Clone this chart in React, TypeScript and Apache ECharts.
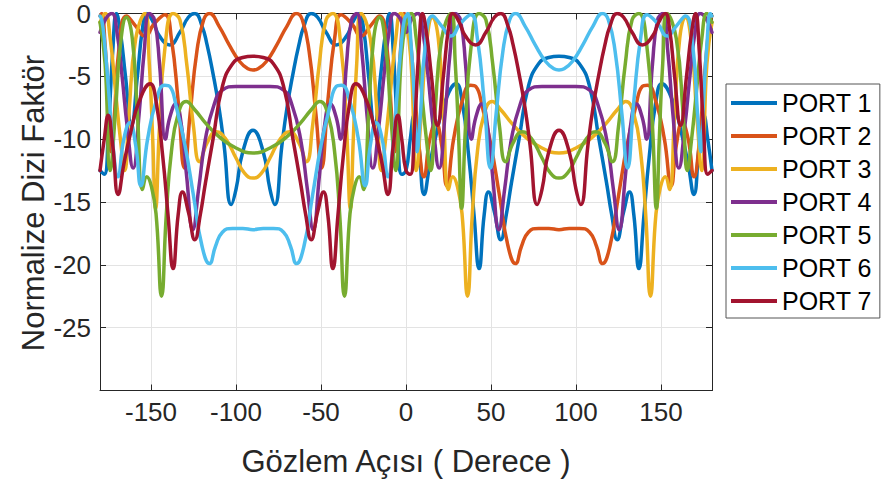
import React, { useEffect, useRef } from 'react';
import * as echarts from 'echarts';

const portNames = ['PORT 1', 'PORT 2', 'PORT 3', 'PORT 4', 'PORT 5', 'PORT 6', 'PORT 7'];
const portColors = ['#0072BD', '#D95319', '#EDB120', '#7E2F8E', '#77AC30', '#4DBEEE', '#A2142F'];
const yTickValues = [0, -5, -10, -15, -20, -25];
const xTitle = 'Gözlem Açısı ( Derece )';
const yTitle = 'Normalize Dizi Faktör';

// [angle (deg), normalized array factor (dB)]
const port1: [number, number][] = [
  [-180,-12.5],[-177.5,-12.8],[-175,-9],[-172.5,-3],[-170.3,0],[-168,-1.5],[-165,-5],[-161.5,-8.9],[-158,-5],[-155,-1.2],[-152.5,0],[-149,-0.6],[-145,-1.8],[-139,-2.5],[-133,-1.5],[-128,-0.3],[-124.2,0],[-120,-1],[-117,-2.5],[-113.5,-4.8],[-110,-7.5],[-107,-10.5],[-102.8,-15.2],[-100,-14],[-96,-11],[-90,-9.3],
  [-84,-11],[-80,-14],[-77.2,-15.2],[-73,-10.5],[-70,-7.5],[-66.5,-4.8],[-63,-2.5],[-60,-1],[-55.8,0],[-52,-0.3],[-47,-1.5],[-41,-2.5],[-35,-1.8],[-31,-0.6],[-27.5,0],[-25,-1.2],[-22,-5],[-18.5,-8.9],[-15,-5],[-12,-1.5],[-9.7,0],[-7.5,-3],[-5,-9],[-2.5,-12.8],[0,-12.5],
  [2.5,-10],[4.8,-8.1],[7.5,-10.5],[10.7,-14.4],[14,-12],[18,-9.5],[23,-7],[29.5,-5.6],[33,-7],[37,-11.5],[40,-16],[43,-20.3],[46,-16],[48.5,-14.2],[52,-15.8],[55.8,-18],[59,-16],[62,-13.5],[66.5,-10],[72,-5.8],[78,-4],[84,-3.5],[90,-3.4],
  [96,-3.5],[102,-4],[108,-5.8],[113.5,-10],[118,-13.5],[121,-16],[124.2,-18],[128,-15.8],[131.5,-14.2],[134,-16],[137,-20.3],[140,-16],[143,-11.5],[147,-7],[150.5,-5.6],[157,-7],[162,-9.5],[166,-12],[169.3,-14.4],[172.5,-10.5],[175.2,-8.1],[177.5,-10],[180,-12.5]
];

const port2: [number, number][] = [
  [-180,-0.2],[-179,0],[-177,-2.5],[-175,-7],[-173.5,-11],[-171.5,-8],[-169,-3],[-164.4,-0.2],[-159,-1],[-153.6,-1.8],[-148,-0.8],[-141.8,-0.1],[-138,-2],[-134,-7],[-130.3,-12.3],[-127,-8],[-123,-3],[-119,-0.5],[-115.6,0],[-110,-1],[-104,-2.5],[-98,-3.8],[-93,-4.4],[-90,-4.5],
  [-87,-4.4],[-82,-3.8],[-76,-2.5],[-70,-1],[-64.4,0],[-61,-0.5],[-57,-3],[-53,-8],[-49.7,-12.3],[-46,-7],[-42,-2],[-38.2,-0.1],[-32,-0.8],[-26.4,-1.8],[-21,-1],[-15.6,-0.2],[-11,-3],[-8.5,-8],[-6.5,-11],[-5,-7],[-3,-2.5],[-1,0],[0,-0.2],
  [1,-0.5],[2.5,-2],[5,-6],[8,-11],[10.5,-13],[14,-10],[17.5,-8.7],[21,-10.5],[24,-13.7],[28,-10],[33,-7],[38,-5.7],[41,-5.8],[45,-7.5],[50,-10.5],[55,-14.5],[60,-18.5],[64.4,-19.9],[68,-18.5],[72,-17.4],[78,-17.1],[84,-17.1],[90,-17.2],
  [96,-17.1],[102,-17.1],[108,-17.4],[112,-18.5],[115.6,-19.9],[120,-18.5],[125,-14.5],[130,-10.5],[135,-7.5],[139,-5.8],[142,-5.7],[147,-7],[152,-10],[156,-13.7],[159,-10.5],[162.5,-8.7],[166,-10],[169.5,-13],[172,-11],[175,-6],[177.5,-2],[179,-0.5],[180,-0.2]
];

const port3: [number, number][] = [
  [-180,-0.7],[-177,0],[-174,-2],[-171,-6],[-168,-10],[-165.5,-12.5],[-163,-8],[-159,-2],[-153.6,0],[-151,-4],[-149,-10],[-147.3,-15.5],[-145,-9],[-142,-3],[-137,0],[-133,-0.5],[-129,-4],[-125,-9],[-121.4,-11.8],[-117,-10.3],[-111.6,-9.4],[-106,-10],[-100,-11.5],[-95,-12.7],[-90,-13.1],
  [-85,-12.7],[-80,-11.5],[-74,-10],[-68.4,-9.4],[-63,-10.3],[-58.6,-11.8],[-55,-9],[-51,-4],[-47,-0.5],[-43,0],[-38,-3],[-35,-9],[-32.7,-15.5],[-31,-10],[-29,-4],[-26.4,0],[-21,-2],[-17,-8],[-14.5,-12.5],[-12,-10],[-9,-6],[-6,-2],[-3,0],[0,-0.7],
  [3,-4],[6,-12.5],[9,-8],[12,-2.5],[15.6,-0.3],[19,-2],[22,-8],[25,-14],[27.5,-13],[30.3,-13.8],[33,-16],[36.2,-22.5],[39,-16],[42,-11],[46,-8],[50.7,-7],[56,-7.7],[62,-8.7],[70,-9.8],[80,-10.7],[90,-11.1],
  [100,-10.7],[110,-9.8],[118,-8.7],[124,-7.7],[129.3,-7],[134,-8],[138,-11],[141,-16],[143.8,-22.5],[147,-16],[149.7,-13.8],[152.5,-13],[155,-14],[158,-8],[161,-2],[164.4,-0.3],[168,-2.5],[171,-8],[174,-12.5],[177,-4],[180,-0.7]
];

const port4: [number, number][] = [
  [-180,-1.5],[-176.5,-0.4],[-173,0],[-170,-1.5],[-167,-5],[-164,-9],[-160.5,-12.3],[-157,-8],[-154,-3],[-151,0],[-148,-0.5],[-145,-4],[-141.5,-10],[-139,-8.3],[-135.5,-7.2],[-132,-9],[-129,-13],[-125.4,-17.2],[-122,-14],[-118,-10],[-113,-7.3],[-108,-6.1],[-100,-5.8],[-90,-5.8],
  [-80,-5.8],[-72,-6.1],[-67,-7.3],[-62,-10],[-58,-14],[-54.6,-17.2],[-51,-13],[-48,-9],[-44.5,-7.2],[-41,-8.3],[-38.5,-10],[-35,-4],[-32,-0.5],[-29,0],[-26,-3],[-23,-8],[-19.5,-12.3],[-16,-9],[-13,-5],[-10,-1.5],[-7,0],[-3.5,-0.4],[0,-1.5],
  [3.5,-0.4],[7,0],[10,-1.5],[13,-5],[16,-9],[19.5,-12.3],[23,-8],[26,-3],[29,0],[32,-0.5],[35,-4],[38.5,-10],[41,-8.3],[44.5,-7.2],[48,-9],[51,-13],[54.6,-17.2],[58,-14],[62,-10],[67,-7.3],[72,-6.1],[80,-5.8],[90,-5.8],
  [100,-5.8],[108,-6.1],[113,-7.3],[118,-10],[122,-14],[125.4,-17.2],[129,-13],[132,-9],[135.5,-7.2],[139,-8.3],[141.5,-10],[145,-4],[148,-0.5],[151,0],[154,-3],[157,-8],[160.5,-12.3],[164,-9],[167,-5],[170,-1.5],[173,0],[176.5,-0.4],[180,-1.5]
];

const port5: [number, number][] = [
  [-180,-0.7],[-177,-4],[-174,-12.5],[-171,-8],[-168,-2.5],[-164.4,-0.3],[-161,-2],[-158,-8],[-155,-14],[-152.5,-13],[-149.7,-13.8],[-147,-16],[-143.8,-22.5],[-141,-16],[-138,-11],[-134,-8],[-129.3,-7],[-124,-7.7],[-118,-8.7],[-110,-9.8],[-100,-10.7],[-90,-11.1],
  [-80,-10.7],[-70,-9.8],[-62,-8.7],[-56,-7.7],[-50.7,-7],[-46,-8],[-42,-11],[-39,-16],[-36.2,-22.5],[-33,-16],[-30.3,-13.8],[-27.5,-13],[-25,-14],[-22,-8],[-19,-2],[-15.6,-0.3],[-12,-2.5],[-9,-8],[-6,-12.5],[-3,-4],[0,-0.7],
  [3,0],[6,-2],[9,-6],[12,-10],[14.5,-12.5],[17,-8],[21,-2],[26.4,0],[29,-4],[31,-10],[32.7,-15.5],[35,-9],[38,-3],[43,0],[47,-0.5],[51,-4],[55,-9],[58.6,-11.8],[63,-10.3],[68.4,-9.4],[74,-10],[80,-11.5],[85,-12.7],[90,-13.1],
  [95,-12.7],[100,-11.5],[106,-10],[111.6,-9.4],[117,-10.3],[121.4,-11.8],[125,-9],[129,-4],[133,-0.5],[137,0],[142,-3],[145,-9],[147.3,-15.5],[149,-10],[151,-4],[153.6,0],[159,-2],[163,-8],[165.5,-12.5],[168,-10],[171,-6],[174,-2],[177,0],[180,-0.7]
];

const port6: [number, number][] = [
  [-180,-0.2],[-179,-0.5],[-177.5,-2],[-175,-6],[-172,-11],[-169.5,-13],[-166,-10],[-162.5,-8.7],[-159,-10.5],[-156,-13.7],[-152,-10],[-147,-7],[-142,-5.7],[-139,-5.8],[-135,-7.5],[-130,-10.5],[-125,-14.5],[-120,-18.5],[-115.6,-19.9],[-112,-18.5],[-108,-17.4],[-102,-17.1],[-96,-17.1],[-90,-17.2],
  [-84,-17.1],[-78,-17.1],[-72,-17.4],[-68,-18.5],[-64.4,-19.9],[-60,-18.5],[-55,-14.5],[-50,-10.5],[-45,-7.5],[-41,-5.8],[-38,-5.7],[-33,-7],[-28,-10],[-24,-13.7],[-21,-10.5],[-17.5,-8.7],[-14,-10],[-10.5,-13],[-8,-11],[-5,-6],[-2.5,-2],[-1,-0.5],[0,-0.2],
  [1,0],[3,-2.5],[5,-7],[6.5,-11],[8.5,-8],[11,-3],[15.6,-0.2],[21,-1],[26.4,-1.8],[32,-0.8],[38.2,-0.1],[42,-2],[46,-7],[49.7,-12.3],[53,-8],[57,-3],[61,-0.5],[64.4,0],[70,-1],[76,-2.5],[82,-3.8],[87,-4.4],[90,-4.5],
  [93,-4.4],[98,-3.8],[104,-2.5],[110,-1],[115.6,0],[119,-0.5],[123,-3],[127,-8],[130.3,-12.3],[134,-7],[138,-2],[141.8,-0.1],[148,-0.8],[153.6,-1.8],[159,-1],[164.4,-0.2],[169,-3],[171.5,-8],[173.5,-11],[175,-7],[177,-2.5],[179,0],[180,-0.2]
];

const port7: [number, number][] = [
  [-180,-12.5],[-177.5,-10],[-175.2,-8.1],[-172.5,-10.5],[-169.3,-14.4],[-166,-12],[-162,-9.5],[-157,-7],[-150.5,-5.6],[-147,-7],[-143,-11.5],[-140,-16],[-137,-20.3],[-134,-16],[-131.5,-14.2],[-128,-15.8],[-124.2,-18],[-121,-16],[-118,-13.5],[-113.5,-10],[-108,-5.8],[-102,-4],[-96,-3.5],[-90,-3.4],
  [-84,-3.5],[-78,-4],[-72,-5.8],[-66.5,-10],[-62,-13.5],[-59,-16],[-55.8,-18],[-52,-15.8],[-48.5,-14.2],[-46,-16],[-43,-20.3],[-40,-16],[-37,-11.5],[-33,-7],[-29.5,-5.6],[-23,-7],[-18,-9.5],[-14,-12],[-10.7,-14.4],[-7.5,-10.5],[-4.8,-8.1],[-2.5,-10],[0,-12.5],
  [2.5,-12.8],[5,-9],[7.5,-3],[9.7,0],[12,-1.5],[15,-5],[18.5,-8.9],[22,-5],[25,-1.2],[27.5,0],[31,-0.6],[35,-1.8],[41,-2.5],[47,-1.5],[52,-0.3],[55.8,0],[60,-1],[63,-2.5],[66.5,-4.8],[70,-7.5],[73,-10.5],[77.2,-15.2],[80,-14],[84,-11],[90,-9.3],
  [96,-11],[100,-14],[102.8,-15.2],[107,-10.5],[110,-7.5],[113.5,-4.8],[117,-2.5],[120,-1],[124.2,0],[128,-0.3],[133,-1.5],[139,-2.5],[145,-1.8],[149,-0.6],[152.5,0],[155,-1.2],[158,-5],[161.5,-8.9],[165,-5],[168,-1.5],[170.3,0],[172.5,-3],[175,-9],[177.5,-12.8],[180,-12.5]
];

const allPorts = [port1, port2, port3, port4, port5, port6, port7];
const FONT = '"Liberation Sans", Arial, Helvetica, sans-serif';

export default function App() {
  const ref = useRef<HTMLDivElement>(null);

  useEffect(() => {
    if (!ref.current) return;
    const chart = echarts.init(ref.current, null, { renderer: 'svg' });

    const series = allPorts.map((d, i) => ({
      name: portNames[i],
      type: 'line',
      data: d,
      showSymbol: false,
      symbol: 'none',
      smooth: 0.5,
      clip: true,
      lineStyle: { width: 3.5, color: portColors[i], cap: 'round', join: 'round' },
      itemStyle: { color: portColors[i] },
      z: 2 + i,
    }));

    const axisColor = '#262626';
    const gridColor = '#e3e3e3';

    chart.setOption({
      animation: false,
      backgroundColor: '#ffffff',
      textStyle: { fontFamily: FONT },
      grid: { left: 100, right: 169, top: 13.5, bottom: 95.5, containLabel: false },
      xAxis: [
        {
          type: 'value',
          min: -180,
          max: 180,
          splitNumber: 7,
          axisLine: { show: true, onZero: false, lineStyle: { color: axisColor, width: 1 } },
          axisTick: { show: true, inside: true, length: 6, lineStyle: { color: axisColor } },
          axisLabel: {
            fontSize: 26,
            lineHeight: 24,
            color: axisColor,
            margin: 9,
            fontFamily: FONT,
            formatter: (v: number) => (v <= -180 || v >= 180 ? '' : String(v)),
          },
          splitLine: { show: true, lineStyle: { color: gridColor, width: 1 } },
        },
        {
          type: 'value',
          position: 'top',
          min: -180,
          max: 180,
          splitNumber: 7,
          axisLine: { show: true, onZero: false, lineStyle: { color: axisColor, width: 1 } },
          axisTick: { show: true, inside: true, length: 6, lineStyle: { color: axisColor } },
          axisLabel: { show: false },
          splitLine: { show: false },
        },
      ],
      yAxis: [
        {
          type: 'value',
          min: -30,
          max: 0,
          interval: 5,
          axisLine: { show: true, onZero: false, lineStyle: { color: axisColor, width: 1 } },
          axisTick: { show: true, inside: true, length: 6, lineStyle: { color: axisColor } },
          axisLabel: {
            fontSize: 26,
            lineHeight: 22,
            color: axisColor,
            margin: 9,
            fontFamily: FONT,
            formatter: (v: number) => (yTickValues.indexOf(v) >= 0 ? String(v) : ''),
          },
          splitLine: { show: true, lineStyle: { color: gridColor, width: 1 } },
        },
        {
          type: 'value',
          position: 'right',
          min: -30,
          max: 0,
          interval: 5,
          axisLine: { show: true, onZero: false, lineStyle: { color: axisColor, width: 1 } },
          axisTick: { show: true, inside: true, length: 6, lineStyle: { color: axisColor } },
          axisLabel: { show: false },
          splitLine: { show: false },
        },
      ],
      legend: {
        orient: 'vertical',
        left: 726,
        top: 84,
        data: portNames,
        icon: 'rect',
        itemWidth: 46,
        itemHeight: 4,
        itemGap: 5,
        padding: [5, 8, 3, 5],
        borderColor: '#555555',
        borderWidth: 1,
        backgroundColor: '#ffffff',
        textStyle: { fontSize: 25, color: '#000000', lineHeight: 28, fontFamily: FONT },
      },
      graphic: [
        {
          type: 'text',
          x: 33,
          y: 203,
          rotation: Math.PI / 2,
          style: {
            text: yTitle,
            fontSize: 31,
            fontFamily: FONT,
            fill: axisColor,
            align: 'center',
            verticalAlign: 'middle',
            textAlign: 'center',
            textVerticalAlign: 'middle',
          },
        },
        {
          type: 'text',
          x: 406,
          y: 461,
          style: {
            text: xTitle,
            fontSize: 31,
            fontFamily: FONT,
            fill: axisColor,
            align: 'center',
            verticalAlign: 'middle',
            textAlign: 'center',
            textVerticalAlign: 'middle',
          },
        },
      ],
      series,
    });

    return () => chart.dispose();
  }, []);

  return (
    <div
      ref={ref}
      style={{ position: 'fixed', left: 0, top: 0, width: 881, height: 486, background: '#ffffff' }}
    />
  );
}
